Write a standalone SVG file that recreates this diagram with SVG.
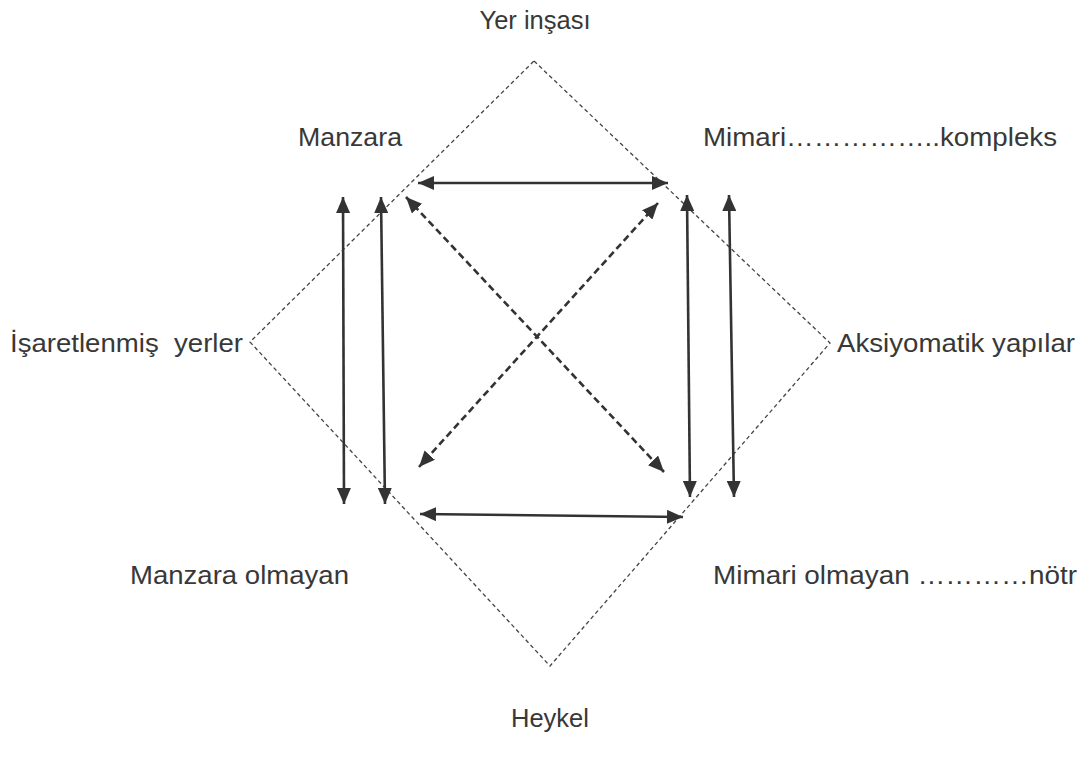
<svg xmlns="http://www.w3.org/2000/svg" width="1091" height="761" viewBox="0 0 1091 761">
<style>
.t{font-family:"Liberation Sans",Arial,sans-serif;font-size:25.5px;fill:#383838;white-space:pre}
.frame{fill:none;stroke:#444;stroke-width:1.3;stroke-dasharray:4 3}
.a{stroke:#333;stroke-width:2.6;fill:none;marker-start:url(#ah);marker-end:url(#ah)}
.d{stroke:#333;stroke-width:2.6;fill:none;stroke-dasharray:7 4;marker-start:url(#ah);marker-end:url(#ah)}
</style>
<defs>
<marker id="ah" viewBox="0 0 16 14" refX="16" refY="7" markerWidth="16" markerHeight="14" markerUnits="userSpaceOnUse" orient="auto-start-reverse">
<path d="M0,0 L16,7 L0,14 z" fill="#333"/>
</marker>
</defs>
<rect width="1091" height="761" fill="#fff"/>
<g id="frame"><polygon class="frame" points="534,61 830,343 550,666 250,342"/></g>
<g id="connectors">
<line class="a" x1="418" y1="183" x2="668" y2="183"/>
<line class="a" x1="420" y1="514" x2="683" y2="517"/>
<line class="a" x1="343" y1="197" x2="344" y2="504"/>
<line class="a" x1="381" y1="197" x2="385" y2="504"/>
<line class="a" x1="687" y1="195" x2="690" y2="497"/>
<line class="a" x1="729" y1="195" x2="734" y2="497"/>
<line class="d" x1="406" y1="197" x2="664" y2="472"/>
<line class="d" x1="658" y1="203" x2="419" y2="467"/>
</g>
<g id="n-yer"><text class="t" x="535" y="29" text-anchor="middle">Yer inşası</text></g>
<g id="n-manzara"><text class="t" x="298" y="146" textLength="104" lengthAdjust="spacingAndGlyphs">Manzara</text></g>
<g id="n-mimari"><text class="t" x="703" y="146" textLength="354" lengthAdjust="spacingAndGlyphs">Mimari……………..kompleks</text></g>
<g id="n-isaret"><text class="t" x="10" y="352" textLength="233" lengthAdjust="spacingAndGlyphs">İşaretlenmiş  yerler</text></g>
<g id="n-aksiyom"><text class="t" x="837" y="352" textLength="238" lengthAdjust="spacingAndGlyphs">Aksiyomatik yapılar</text></g>
<g id="n-manzara-olm"><text class="t" x="130" y="584" textLength="219" lengthAdjust="spacingAndGlyphs">Manzara olmayan</text></g>
<g id="n-mimari-olm"><text class="t" x="713" y="584" textLength="364" lengthAdjust="spacingAndGlyphs">Mimari olmayan …………nötr</text></g>
<g id="n-heykel"><text class="t" x="550" y="727" text-anchor="middle">Heykel</text></g>
</svg>
